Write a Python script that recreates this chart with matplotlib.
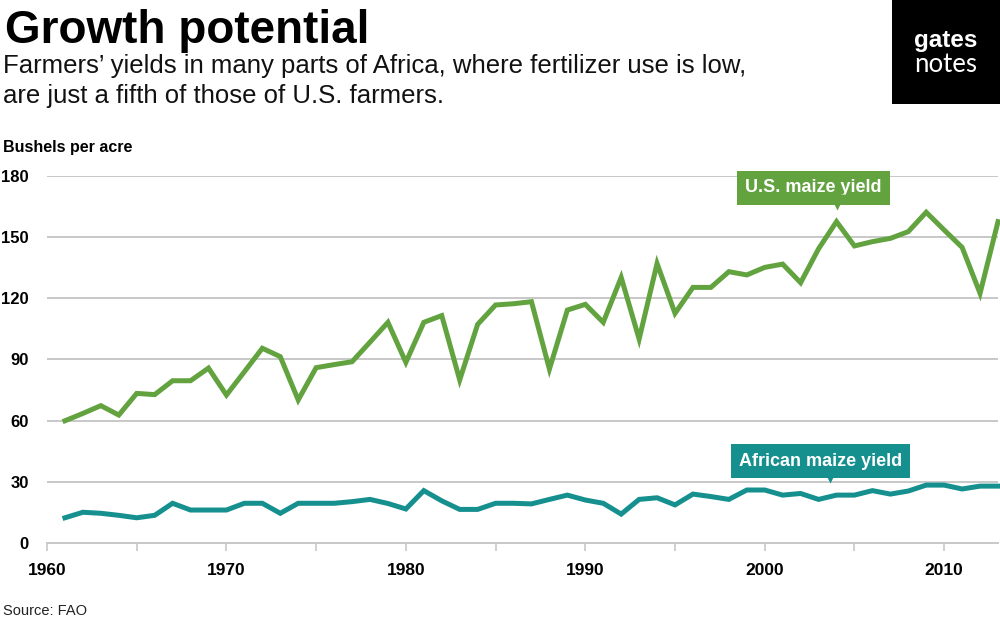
import matplotlib
matplotlib.use('Agg')
import matplotlib.pyplot as plt
from matplotlib.patches import Rectangle

plt.rcParams['font.family'] = ['Liberation Sans', 'DejaVu Sans']

years = list(range(1961, 2014))
us_yield = [60.0, 63.6, 67.4, 62.8, 73.4, 72.8, 79.6, 79.6, 85.8, 72.6,
            84.0, 95.5, 91.4, 70.2, 86.0, 87.5, 88.9, 98.5, 108.2, 88.6,
            108.2, 111.5, 80.0, 107.2, 116.7, 117.3, 118.3, 85.3, 114.2, 117.0,
            108.2, 130.2, 100.0, 137.0, 112.6, 125.3, 125.3, 133.0, 131.4, 135.1,
            136.7, 127.6, 144.2, 157.5, 145.6, 147.7, 149.3, 152.6, 162.1, 153.4,
            144.9, 122.4, 157.5]
africa_yield = [12.5, 15.2, 14.7, 13.7, 12.5, 13.7, 19.6, 16.3, 16.3, 16.3,
                19.6, 19.6, 14.7, 19.6, 19.6, 19.6, 20.4, 21.5, 19.5, 16.8,
                25.8, 20.8, 16.6, 16.6, 19.6, 19.6, 19.3, 21.5, 23.6, 21.2,
                19.6, 14.3, 21.5, 22.3, 18.8, 24.1, 22.9, 21.5, 26.1, 26.1,
                23.6, 24.4, 21.5, 23.6, 23.6, 25.8, 24.1, 25.6, 28.5, 28.5,
                26.6, 28.0, 28.0]

y_ticks = [0, 30, 60, 90, 120, 150, 180]
x_labels = [1960, 1970, 1980, 1990, 2000, 2010]
x_minor = [1965, 1975, 1985, 1995, 2005]

green = '#62a340'
teal = '#16908f'
grid_c = '#c8c8c8'

fig = plt.figure(figsize=(10, 6.21), dpi=100)
ax = fig.add_axes([0.047, 0.1251, 0.951, 0.592])

for v in y_ticks[1:]:
    ax.axhline(v, color=grid_c, lw=1.4, zorder=1)

ax.plot(years, us_yield, color=green, lw=3.6, solid_joinstyle='miter', zorder=3, clip_on=False)
ax.plot(years, africa_yield, color=teal, lw=3.6, solid_joinstyle='miter', zorder=3, clip_on=False)

ax.set_xlim(1960, 2013)
ax.set_ylim(0, 180)
ax.set_yticks(y_ticks)
ax.set_xticks(x_labels)
ax.set_xticks(x_minor, minor=True)
for s in ['top', 'right', 'left']:
    ax.spines[s].set_visible(False)
ax.spines['bottom'].set_color(grid_c)
ax.spines['bottom'].set_linewidth(1.4)
ax.tick_params(axis='y', length=0, pad=13, labelsize=12)
ax.tick_params(axis='x', which='both', length=6, width=1.2, color=grid_c, pad=8, labelsize=12.5)
for lab in ax.get_xticklabels() + ax.get_yticklabels():
    lab.set_fontweight('bold')
for lab in ax.get_yticklabels():
    lab.set_horizontalalignment('right')

# series labels
ax.text(2002.7, 174, 'U.S. maize yield', color='white', fontsize=13, fontweight='bold',
        ha='center', va='center', zorder=5,
        bbox=dict(boxstyle='square,pad=0.45', fc=green, ec='none'))
ax.plot(2004.0, 167.3, marker='v', ms=11, color=green, mec='none', zorder=5, clip_on=False)
ax.text(2003.1, 40.3, 'African maize yield', color='white', fontsize=13, fontweight='bold',
        ha='center', va='center', zorder=5,
        bbox=dict(boxstyle='square,pad=0.45', fc=teal, ec='none'))
ax.plot(2003.65, 33.3, marker='v', ms=11, color=teal, mec='none', zorder=5, clip_on=False)

# header text
fig.text(0.005, 0.9308, 'Growth potential', fontsize=33, fontweight='bold', va='baseline')
fig.text(0.003, 0.8824, 'Farmers\u2019 yields in many parts of Africa, where fertilizer use is low,',
         fontsize=18.5, va='baseline', color='#111111')
fig.text(0.003, 0.834, 'are just a fifth of those of U.S. farmers.',
         fontsize=18.5, va='baseline', color='#111111')
fig.text(0.003, 0.7552, 'Bushels per acre', fontsize=11.5, fontweight='bold', va='baseline')
fig.text(0.003, 0.01, 'Source: FAO', fontsize=10.5, va='baseline', color='#222222')

# logo
fig.patches.append(Rectangle((0.892, 1 - 104 / 621), 0.108, 104 / 621, transform=fig.transFigure,
                             facecolor='black', edgecolor='none'))
fig.text(0.946, 1 - 47 / 621, 'gates', color='white', fontsize=17.5, fontweight='bold',
         ha='center', va='baseline')
fig.text(0.946, 1 - 72 / 621, 'notes', color='white', fontsize=18.5, ha='center', va='baseline',
         family=['Lato', 'Liberation Sans'], fontweight='normal')

fig.savefig('out.png', dpi=100)
